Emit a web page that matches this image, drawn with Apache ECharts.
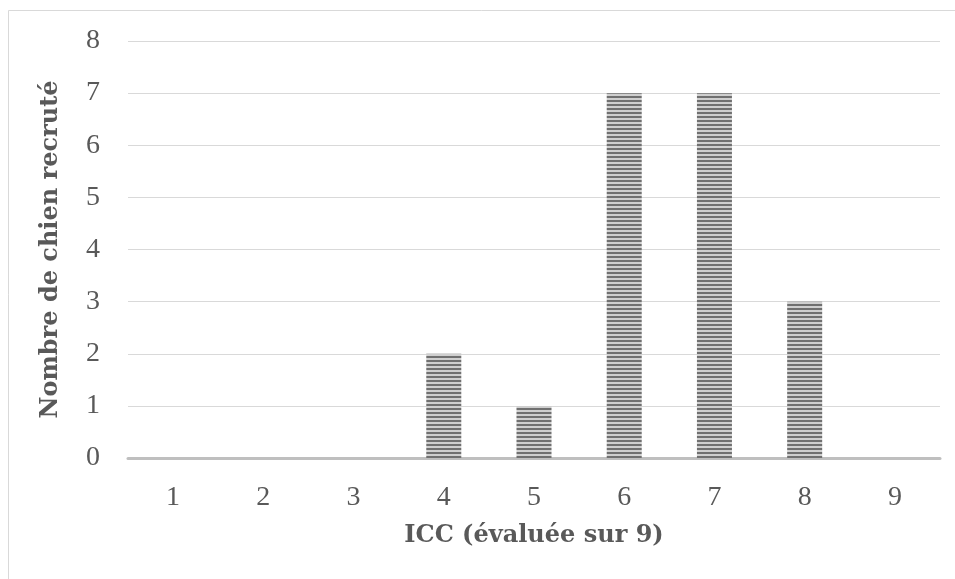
<!DOCTYPE html>
<html>
<head>
<meta charset="utf-8">
<script src="https://cdn.jsdelivr.net/npm/echarts@6/dist/echarts.min.js"></script>
<style>
  html, body { margin: 0; padding: 0; background: #fff; }
  #chart { width: 955px; height: 579px; }
</style>
</head>
<body>
<div id="chart"></div>
<script>
var categories = ['1', '2', '3', '4', '5', '6', '7', '8', '9'];
var counts = [0, 0, 0, 2, 1, 7, 7, 3, 0];
var yTicks = [0, 1, 2, 3, 4, 5, 6, 7, 8];

var numFont = '"Liberation Serif", "DejaVu Serif", serif';
var titleFont = '"DejaVu Serif", "Liberation Serif", serif';

// striped fill like the reference bars
function stripePattern() {
  var c = document.createElement('canvas');
  c.width = 8;
  c.height = 4;
  var ctx = c.getContext('2d');
  ctx.fillStyle = '#cfcfcf';
  ctx.fillRect(0, 0, 8, 4);
  ctx.fillStyle = '#707070';
  ctx.fillRect(0, 0, 8, 2);
  return c;
}

var chart = echarts.init(document.getElementById('chart'));
var option = {
  animation: false,
  backgroundColor: '#fff',
  graphic: [
    { type: 'line', shape: { x1: 8.5, y1: 10.5, x2: 955, y2: 10.5 }, style: { stroke: '#d9d9d9', lineWidth: 1 } },
    { type: 'line', shape: { x1: 8.5, y1: 10.5, x2: 8.5, y2: 579 }, style: { stroke: '#d9d9d9', lineWidth: 1 } }
  ],
  grid: { left: 128, right: 15, top: 41, bottom: 121, containLabel: false },
  xAxis: {
    type: 'category',
    data: categories,
    name: 'ICC (évaluée sur 9)',
    nameLocation: 'middle',
    nameGap: 66,
    nameTextStyle: { fontFamily: titleFont, fontSize: 24, fontWeight: 'bold', color: '#595959' },
    axisLine: { lineStyle: { color: '#bfbfbf', width: 3 } },
    axisTick: { show: false },
    axisLabel: { fontFamily: numFont, fontSize: 28, color: '#595959', margin: 26 }
  },
  yAxis: {
    type: 'value',
    min: yTicks[0],
    max: yTicks[yTicks.length - 1],
    interval: 1,
    name: 'Nombre de chien recruté',
    nameLocation: 'middle',
    nameGap: 65,
    nameTextStyle: { fontFamily: titleFont, fontSize: 24, fontWeight: 'bold', color: '#595959' },
    axisLine: { show: false },
    axisTick: { show: false },
    axisLabel: { fontFamily: numFont, fontSize: 28, color: '#595959', margin: 28 },
    splitLine: { lineStyle: { color: '#d9d9d9', width: 1 } }
  },
  series: [{
    type: 'bar',
    data: counts,
    barWidth: 35,
    itemStyle: { color: { image: stripePattern(), repeat: 'repeat' } }
  }]
};
chart.setOption(option);
</script>
</body>
</html>
